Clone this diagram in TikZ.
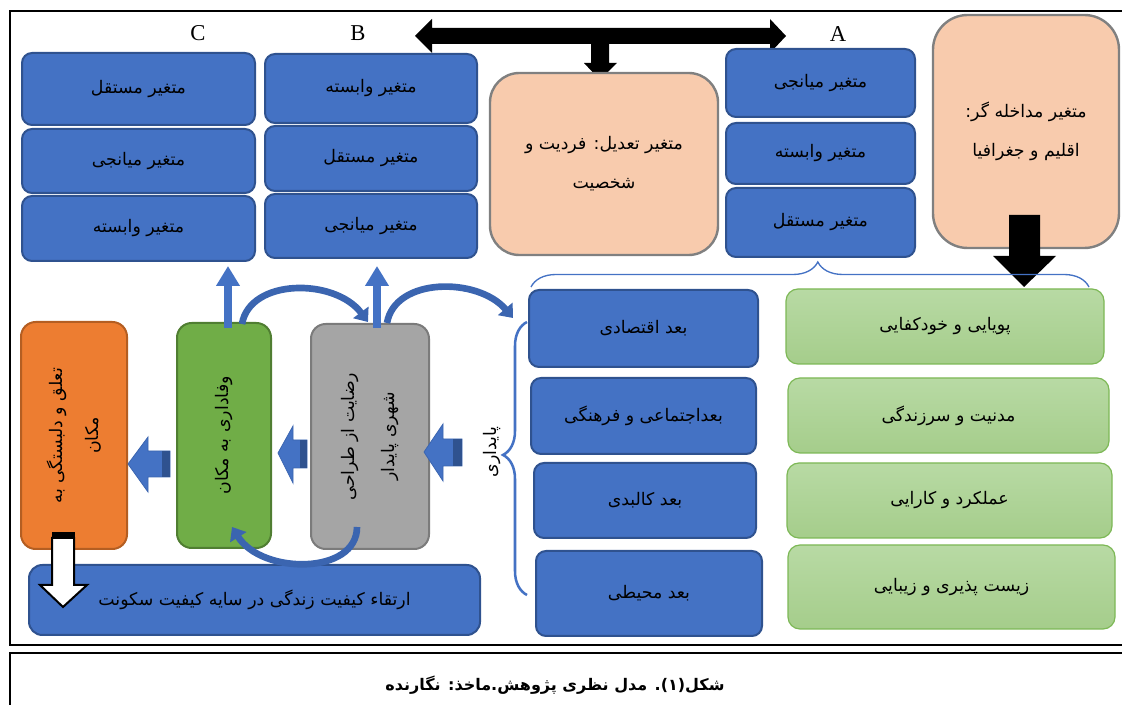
\documentclass[tikz,border=0pt]{standalone}
\usepackage{fontspec}
\setmainfont{Liberation Serif}
\newfontfamily\arabicfont[Script=Arabic]{DejaVu Sans}
\TeXXeTstate=1
\usetikzlibrary{arrows.meta,decorations.pathreplacing,fit,calc}
\newcommand{\rtl}[1]{\beginR #1\endR}
\newcommand{\tbox}[5]{\node[#1, fit={#2}] (#3) {};\node[#4] (#3t) at (#3.center) {#5};}
\definecolor{bfill}{HTML}{4472C4}
\definecolor{bdraw}{HTML}{2F528F}
\definecolor{arcblue}{HTML}{3B65B0}
\definecolor{peach}{HTML}{F8CBAD}
\definecolor{pdraw}{HTML}{808080}
\definecolor{lgreenT}{HTML}{B8DAA4}
\definecolor{lgreenB}{HTML}{A5CD8B}
\definecolor{lgreenD}{HTML}{7DB856}
\definecolor{orangeF}{HTML}{ED7D31}
\definecolor{orangeD}{HTML}{B45E22}
\definecolor{dgreen}{HTML}{70AD47}
\definecolor{dgreenD}{HTML}{507E32}
\definecolor{grayF}{HTML}{A5A5A5}
\definecolor{grayD}{HTML}{7B7B7B}
\begin{document}
\begin{tikzpicture}[x=0.75pt,y=-0.75pt,
  artext/.style={inner sep=0pt, font=\arabicfont\fontsize{13}{16}\selectfont},
  artwo/.style={inner sep=0pt, align=center, font=\arabicfont\fontsize{13}{29.5}\selectfont},
  bluebox/.style={draw=bdraw, fill=bfill, line width=1.5pt, rounded corners=7.5pt, inner sep=0pt},
  peachbox/.style={draw=pdraw, fill=peach, line width=1.8pt, inner sep=0pt},
  greenbox/.style={draw=lgreenD, top color=lgreenT, bottom color=lgreenB, line width=0.9pt, rounded corners=9pt, inner sep=0pt},
  tallbox/.style={line width=1.5pt, rounded corners=11pt, inner sep=0pt},
  rottext/.style={rotate=90, align=center, inner sep=0pt, font=\arabicfont\fontsize{13}{27}\selectfont},
  letter/.style={font=\fontsize{17}{17}\selectfont},
  uparrow/.style={draw=bfill, line width=5.5pt, -{Triangle[width=17pt,length=15pt]}},
  arcarrow/.style={draw=arcblue, line width=5pt, -{Triangle[width=14pt,length=9pt]}},
  blockarrow/.style={fill=bfill, draw=arcblue, line width=0.6pt},
  band/.style={fill=bdraw},
  bracestyle/.style={draw=bfill, decorate},
  blackarrow/.style={fill=black},
  capar/.style={inner sep=0pt, font=\arabicfont\bfseries\fontsize{12}{14}\selectfont}
]
\useasboundingbox (0,0) rectangle (1122,705);
% frames
\draw[line width=1.5pt] (10,11) rectangle (1140,645);
\draw[line width=2pt] (10,653) rectangle (1140,730);

% letters
\node[letter] (lC) at (198,33) {C};
\node[letter] (lB) at (358,33) {B};
\node[letter] (lA) at (838,34) {A};

% black double arrow and down arrow to moderator
\fill[blackarrow] (415,36) -- (432,19) -- (432,28) -- (770,28) -- (770,19) -- (786,36) -- (770,53) -- (770,44) -- (432,44) -- (432,53) -- cycle;
\fill[blackarrow] (591,43) -- (609,43) -- (609,63) -- (617,63) -- (600,80) -- (584,63) -- (591,63) -- cycle;

% C column
\tbox{bluebox}{(22,53)(255,125)}{c1}{artext}{\rtl{متغیر مستقل}}
\tbox{bluebox}{(22,129)(255,193)}{c2}{artext}{\rtl{متغیر میانجی}}
\tbox{bluebox}{(22,196)(255,261)}{c3}{artext}{\rtl{متغیر وابسته}}
% B column
\tbox{bluebox}{(265,54)(477,123)}{b1}{artext}{\rtl{متغیر وابسته}}
\tbox{bluebox}{(265,126)(477,191)}{b2}{artext}{\rtl{متغیر مستقل}}
\tbox{bluebox}{(265,194)(477,258)}{b3}{artext}{\rtl{متغیر میانجی}}
% moderator
\tbox{peachbox, rounded corners=22pt}{(490,73)(718,255)}{mod}{artwo}{\rtl{متغیر تعدیل: فردیت و}\\\rtl{شخصیت}}
% A column
\tbox{bluebox}{(726,49)(915,117)}{a1}{artext}{\rtl{متغیر میانجی}}
\tbox{bluebox}{(726,123)(915,184)}{a2}{artext}{\rtl{متغیر وابسته}}
\tbox{bluebox}{(726,188)(915,257)}{a3}{artext}{\rtl{متغیر مستقل}}
% intervening
\tbox{peachbox, rounded corners=26pt}{(933,15)(1119,248)}{int}{artwo}{\rtl{متغیر مداخله گر:}\\\rtl{اقلیم و جغرافیا}}
\fill[blackarrow] (1009,215) -- (1040,215) -- (1040,256) -- (1056,256) -- (1024,287) -- (993,256) -- (1009,256) -- cycle;

% horizontal brace
\coordinate (hbL) at (531,287);
\coordinate (hbR) at (1089,287);
\draw[bracestyle, line width=1pt, decoration={brace, amplitude=18.75pt, aspect=0.514}] (hbL) -- (hbR);

% dimension boxes
\tbox{bluebox}{(529,290)(758,367)}{d1}{artext}{\rtl{بعد اقتصادی}}
\tbox{bluebox}{(531,378)(756,454)}{d2}{artext}{\rtl{بعداجتماعی و فرهنگی}}
\tbox{bluebox}{(534,463)(756,538)}{d3}{artext}{\rtl{بعد کالبدی}}
\tbox{bluebox}{(536,551)(762,636)}{d4}{artext}{\rtl{بعد محیطی}}
% green boxes
\tbox{greenbox}{(786,289)(1104,364)}{g1}{artext}{\rtl{پویایی و خودکفایی}}
\tbox{greenbox}{(788,378)(1109,453)}{g2}{artext}{\rtl{مدنیت و سرزندگی}}
\tbox{greenbox}{(787,463)(1112,538)}{g3}{artext}{\rtl{عملکرد و کارایی}}
\tbox{greenbox}{(788,545)(1115,629)}{g4}{artext}{\rtl{زیست پذیری و زیبایی}}

% vertical brace and label
\coordinate (vbB) at (527,595);
\coordinate (vbT) at (527,322);
\draw[bracestyle, line width=1.9pt, decoration={brace, amplitude=18pt, aspect=0.513}] (vbB) -- (vbT);
\node[rottext] (pay) at (492,452) {\rtl{پایداری}};

% lower-left boxes
\tbox{tallbox, draw=orangeD, fill=orangeF}{(21,322)(127,549)}{att}{rottext}{\rtl{تعلق و دلبستگی به}\\\rtl{مکان}}
\tbox{tallbox, draw=dgreenD, fill=dgreen}{(177,323)(271,548)}{loy}{rottext}{\rtl{وفاداری به مکان}}
\tbox{tallbox, draw=grayD, fill=grayF}{(311,324)(429,549)}{sat}{rottext, font=\arabicfont\fontsize{13}{30}\selectfont}{\rtl{رضایت از طراحی}\\\rtl{شهری پایدار}}
\tbox{bluebox, rounded corners=10pt}{(29,565)(480,635)}{qol}{artext}{\rtl{ارتقاء کیفیت زندگی در سایه کیفیت سکونت}}

% left block arrows
\draw[blockarrow] (128,464) -- (148,437) -- (148,451) -- (170,451) -- (170,477) -- (148,477) -- (148,492) -- cycle;
\fill[band] (162,451) rectangle (170,477);
\draw[blockarrow] (278,453) -- (293,426) -- (293,440) -- (307,440) -- (307,468) -- (293,468) -- (293,483) -- cycle;
\fill[band] (300,440) rectangle (307,468);
\draw[blockarrow] (424,452) -- (443,424) -- (443,439) -- (462,439) -- (462,466) -- (443,466) -- (443,481) -- cycle;
\fill[band] (453,439) rectangle (462,466);

% hollow down arrow
\draw[fill=white, line width=1.5pt] (52,538) -- (74,538) -- (74,585) -- (87,585) -- (63,607) -- (40,585) -- (52,585) -- cycle;
\fill[black] (52,532) rectangle (75,538);

% up arrows
\coordinate (u1s) at (228,328);
\coordinate (u1e) at (228,266);
\coordinate (u2s) at (377,328);
\coordinate (u2e) at (377,266);
\draw[uparrow] (u1s) -- (u1e);
\draw[uparrow] (u2s) -- (u2e);

% curved arrows
\coordinate (r1s) at (242,324);
\coordinate (r1e) at (368,322);
\coordinate (r2s) at (387,323);
\coordinate (r2e) at (513,318);
\coordinate (r3s) at (357,527);
\coordinate (r3e) at (232,527);
\draw[arcarrow] (r1s) .. controls (250,278) and (335,278) .. (r1e);
\draw[arcarrow] (r2s) .. controls (395,277) and (478,277) .. (r2e);
\draw[arcarrow] (r3s) .. controls (357,575) and (262,575) .. (r3e);

% caption
\node[capar] (cap) at (555,685) {\rtl{شکل(۱). مدل نظری پژوهش.ماخذ: نگارنده}};
\end{tikzpicture}
\end{document}
